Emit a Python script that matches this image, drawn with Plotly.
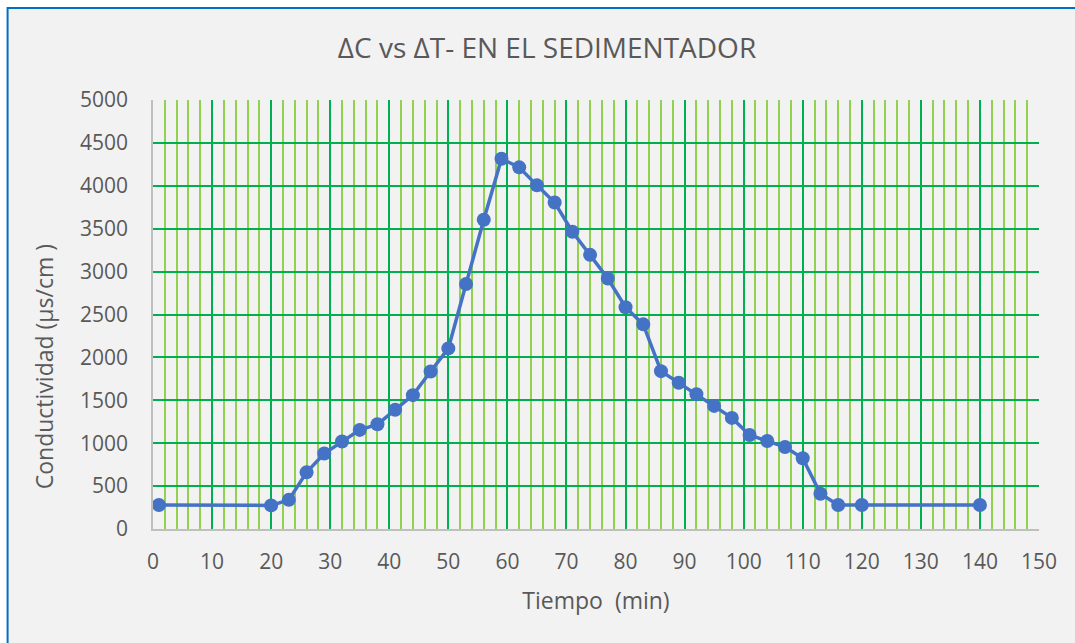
import plotly.graph_objects as go

tiempo = [1, 20, 23, 26, 29, 32, 35, 38, 41, 44, 47, 50, 53, 56, 59, 62, 65, 68,
          71, 74, 77, 80, 83, 86, 89, 92, 95, 98, 101, 104, 107, 110, 113, 116, 120, 140]
conductividad = [280, 275, 340, 660, 880, 1020, 1155, 1220, 1390, 1560, 1835, 2105,
                 2855, 3605, 4315, 4215, 4005, 3805, 3465, 3195, 2920, 2585, 2385,
                 1840, 1705, 1570, 1435, 1295, 1095, 1025, 955, 825, 410, 280, 280, 280]

W, H = 1075, 643
L, R, T, B = 152.5, 36, 100, 113.5
pw, ph = W - L - R, H - T - B

def px(x):
    return (x - L) / pw

def py(y):
    return (H - B - y) / ph

font = "Open Sans"
txt = "#595959"

fig = go.Figure()
fig.add_trace(go.Scatter(
    x=tiempo, y=conductividad, mode="lines+markers",
    line=dict(color="#4472c4", width=3.5),
    marker=dict(color="#4472c4", size=14),
    showlegend=False, hoverinfo="x+y",
))

fig.update_layout(
    width=W, height=H,
    margin=dict(l=L, r=R, t=T, b=B, autoexpand=False),
    paper_bgcolor="white", plot_bgcolor="rgba(0,0,0,0)",
    font=dict(family=font, color=txt, size=20),
    title=dict(text="ΔC vs ΔT- EN EL SEDIMENTADOR", x=547 / W, xref="container",
               xanchor="center", y=1 - 48 / H, yanchor="middle",
               font=dict(family=font, size=28, color=txt)),
    shapes=[dict(type="rect", xref="paper", yref="paper", layer="below",
                 x0=px(7), x1=px(1090), y0=py(660), y1=py(8),
                 fillcolor="#f2f2f2", line=dict(color="#0070c0", width=2))],
    annotations=[dict(text="Conductividad (µs/cm )", textangle=-90, showarrow=False,
                      xref="paper", yref="paper", x=px(43), y=py(367),
                      xanchor="center", yanchor="middle",
                      font=dict(family=font, size=23, color=txt))],
    xaxis=dict(
        range=[0, 150], dtick=10, tick0=0, showgrid=True,
        gridcolor="#00b050", gridwidth=1.6,
        minor=dict(dtick=2, tick0=0, showgrid=True, gridcolor="#92d050", gridwidth=1.6),
        showline=True, linecolor="#bfbfbf", linewidth=1.5,
        zeroline=False, ticks="", ticklabelstandoff=13,
        tickfont=dict(family=font, size=21, color=txt),
        title=dict(text="Tiempo  (min)", font=dict(family=font, size=23, color=txt), standoff=19),
    ),
    yaxis=dict(
        range=[0, 5000], dtick=500, tick0=0, showgrid=True,
        gridcolor="#00b050", gridwidth=1.6,
        showline=True, linecolor="#bfbfbf", linewidth=1.5,
        zeroline=False, ticks="", ticklabelstandoff=19,
        tickfont=dict(family=font, size=21, color=txt),
    ),
)

fig.write_html("out.html")
